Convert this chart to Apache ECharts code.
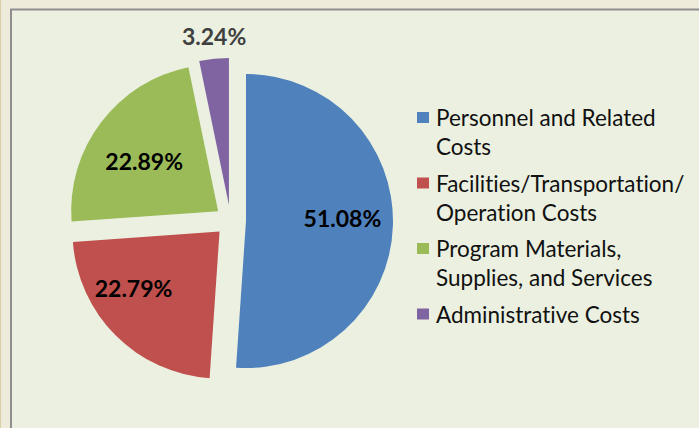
<!DOCTYPE html>
<html>
<head>
<meta charset="utf-8">
<script src="https://cdn.jsdelivr.net/npm/echarts@6/dist/echarts.min.js"></script>
<style>
  html, body { margin: 0; padding: 0; background: #EEEBDA; }
  #chart { width: 699px; height: 428px; }
  #chart, #chart text, #chart tspan { font-variant-ligatures: none; font-feature-settings: "liga" 0, "clig" 0; }
</style>
</head>
<body>
<div id="chart"></div>
<script>
// ---- data ----
const categories = [
  'Personnel and Related Costs',
  'Facilities/Transportation/Operation Costs',
  'Program Materials, Supplies, and Services',
  'Administrative Costs'
];
const legendLines = [
  ['Personnel and Related', 'Costs'],
  ['Facilities/Transportation/', 'Operation Costs'],
  ['Program Materials,', 'Supplies, and Services'],
  ['Administrative Costs']
];
const values = [51.08, 22.79, 22.89, 3.24];
const colors = ['#4F81BD', '#C0504D', '#9BBB59', '#8064A2'];

// ---- presentation ----
const labelShifts = [[20, -5.5], [-32, 2.5], [-13, -4], [-7, -93]];
const labelColors = ['#000000', '#000000', '#000000', '#404040'];

const chart = echarts.init(document.getElementById('chart'), null, { renderer: 'svg' });

const pieData = categories.map((name, i) => ({
  name: name,
  value: values[i],
  selected: true,
  itemStyle: { color: colors[i] },
  label: { color: labelColors[i] }
}));

const NB = '\u00a0';
const legendData = categories.map((name) => ({ name: name, icon: 'rect' }));

const option = {
  animation: false,
  backgroundColor: '#EEEBDA',
  graphic: [
    {
      type: 'rect', silent: true, z: -10,
      shape: { x: 11, y: 9.5, width: 720, height: 440 },
      style: { fill: '#EBF0E0', stroke: '#8E8E8E', lineWidth: 2 }
    },
    {
      type: 'line', silent: true, z: -10,
      shape: { x1: 0.5, y1: 0, x2: 0.5, y2: 428 },
      style: { stroke: '#D9CFA6', lineWidth: 1 }
    }
  ],
  legend: {
    orient: 'vertical',
    left: 417,
    top: 74,
    padding: 0,
    itemWidth: 12,
    itemHeight: 11,
    itemGap: -21.5,
    selectedMode: false,
    data: legendData,
    formatter: function (name) {
      const lines = legendLines[categories.indexOf(name)];
      // first line is kept level with the colour key
      return [NB].concat(lines).concat(lines.length === 1 ? [NB] : []).join('\n');
    },
    textStyle: {
      fontFamily: 'Lato',
      fontSize: 22.5,
      lineHeight: 29,
      color: '#111111',
      padding: [0, 0, 0, 2]
    }
  },
  series: [{
    type: 'pie',
    center: [230.5, 220.5],
    radius: 147,
    startAngle: 90,
    clockwise: true,
    selectedMode: 'multiple',
    selectedOffset: 15.5,
    silent: true,
    avoidLabelOverlap: false,
    label: {
      show: true,
      position: 'inside',
      formatter: function (p) { return p.value.toFixed(2) + '%'; },
      fontFamily: 'Lato',
      fontWeight: 'bold',
      fontSize: 23
    },
    labelLayout: function (p) {
      const s = labelShifts[p.dataIndex];
      return { dx: s[0], dy: s[1] };
    },
    labelLine: { show: false },
    itemStyle: { borderWidth: 0 },
    emphasis: { disabled: true },
    select: { itemStyle: { borderWidth: 0 } },
    data: pieData
  }]
};
chart.setOption(option);
</script>
</body>
</html>
